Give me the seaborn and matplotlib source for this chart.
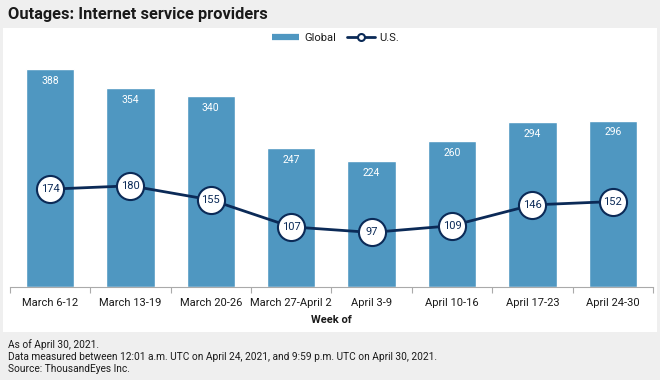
import matplotlib
matplotlib.use("Agg")
import matplotlib.pyplot as plt
from matplotlib.patches import Rectangle
from matplotlib.lines import Line2D
import seaborn as sns
import pandas as pd
import numpy as np

weeks = ["March 6-12", "March 13-19", "March 20-26", "March 27-April 2",
         "April 3-9", "April 10-16", "April 17-23", "April 24-30"]
global_vals = [388, 354, 340, 247, 224, 260, 294, 296]
us_vals = [174, 180, 155, 107, 97, 109, 146, 152]

title = "Outages: Internet service providers"
xlabel = "Week of"
footer = ["As of April 30, 2021.",
          "Data measured between 12:01 a.m. UTC on April 24, 2021, and 9:59 p.m. UTC on April 30, 2021.",
          "Source: ThousandEyes Inc."]

BAR = "#4f97c1"
NAVY = "#0b2a57"
BG = "#efefef"
TXT = "#1a1a1a"

sns.set_theme(style="white")
plt.rcParams["font.family"] = ["Roboto", "DejaVu Sans"]

W, H = 660, 380
fig = plt.figure(figsize=(6.6, 3.8), dpi=100, facecolor=BG)

# white panel
fig.patches.append(Rectangle((3 / W, 1 - 332 / H), (657 - 3) / W, (332 - 28) / H,
                             transform=fig.transFigure, facecolor="white",
                             edgecolor="none", zorder=-5))

ax_l, ax_r = 9.8, 653
ax_t, ax_b = 34, 287
ax = fig.add_axes([ax_l / W, 1 - ax_b / H, (ax_r - ax_l) / W, (ax_b - ax_t) / H])
ax.set_facecolor("none")

df = pd.DataFrame({"week": weeks, "Global": global_vals, "US": us_vals})
sns.barplot(data=df, x="week", y="Global", color=BAR, saturation=1, width=0.6,
            ax=ax, zorder=2)
sns.lineplot(x=np.arange(len(weeks)), y=us_vals, ax=ax, color=NAVY, lw=2,
             marker="o", markersize=19.5, markerfacecolor="white",
             markeredgecolor=NAVY, markeredgewidth=1.5, zorder=3)

for i, v in enumerate(global_vals):
    ax.annotate(str(v), (i, v), xytext=(0, -8.5), textcoords="offset points",
                ha="center", va="center", color="white", fontsize=7.5, zorder=4)
for i, v in enumerate(us_vals):
    ax.annotate(str(v), (i, v), ha="center", va="center", color=NAVY,
                fontsize=8, zorder=5)

ax.set_xlim(-0.5, len(weeks) - 0.5)
ax.set_ylim(0, 450)
ax.set_yticks([])
ax.set_ylabel("")
ax.set_xticks(np.arange(len(weeks)))
ax.set_xticklabels(weeks, fontsize=8, color=TXT)
ax.tick_params(axis="x", length=0, pad=8)
ax.set_xticks(np.arange(len(weeks) + 1) - 0.5, minor=True)
ax.tick_params(axis="x", which="minor", length=4, color="#aaaaaa", width=0.8,
               direction="out", bottom=True)
ax.set_xlabel(xlabel, fontsize=8, fontweight="bold", color=TXT, labelpad=5)
for s in ["top", "left", "right"]:
    ax.spines[s].set_visible(False)
ax.spines["bottom"].set_color("#aaaaaa")
ax.spines["bottom"].set_linewidth(0.8)
ax.spines["bottom"].set_zorder(6)

handles = [Line2D([0], [0], color=BAR, lw=4.5, solid_capstyle="butt"),
           Line2D([0], [0], color=NAVY, lw=2, marker="o", markersize=5,
                  markerfacecolor="white", markeredgecolor=NAVY, markeredgewidth=1.5)]
fig.legend(handles, ["Global", "U.S."], loc="center", bbox_to_anchor=(0.508, 1 - 38 / H),
           ncol=2, frameon=False, fontsize=8, handlelength=2.5, handletextpad=0.4,
           columnspacing=1.0, labelcolor=TXT)

fig.text(8 / W, 1 - 14 / H, title, fontsize=11.8, fontweight="bold", color=TXT,
         ha="left", va="center")
for k, line in enumerate(footer):
    fig.text(8 / W, 1 - (345 + 12 * k) / H, line, fontsize=7.3, color=TXT,
             ha="left", va="center")

fig.savefig("out.png", dpi=100, facecolor=BG)
